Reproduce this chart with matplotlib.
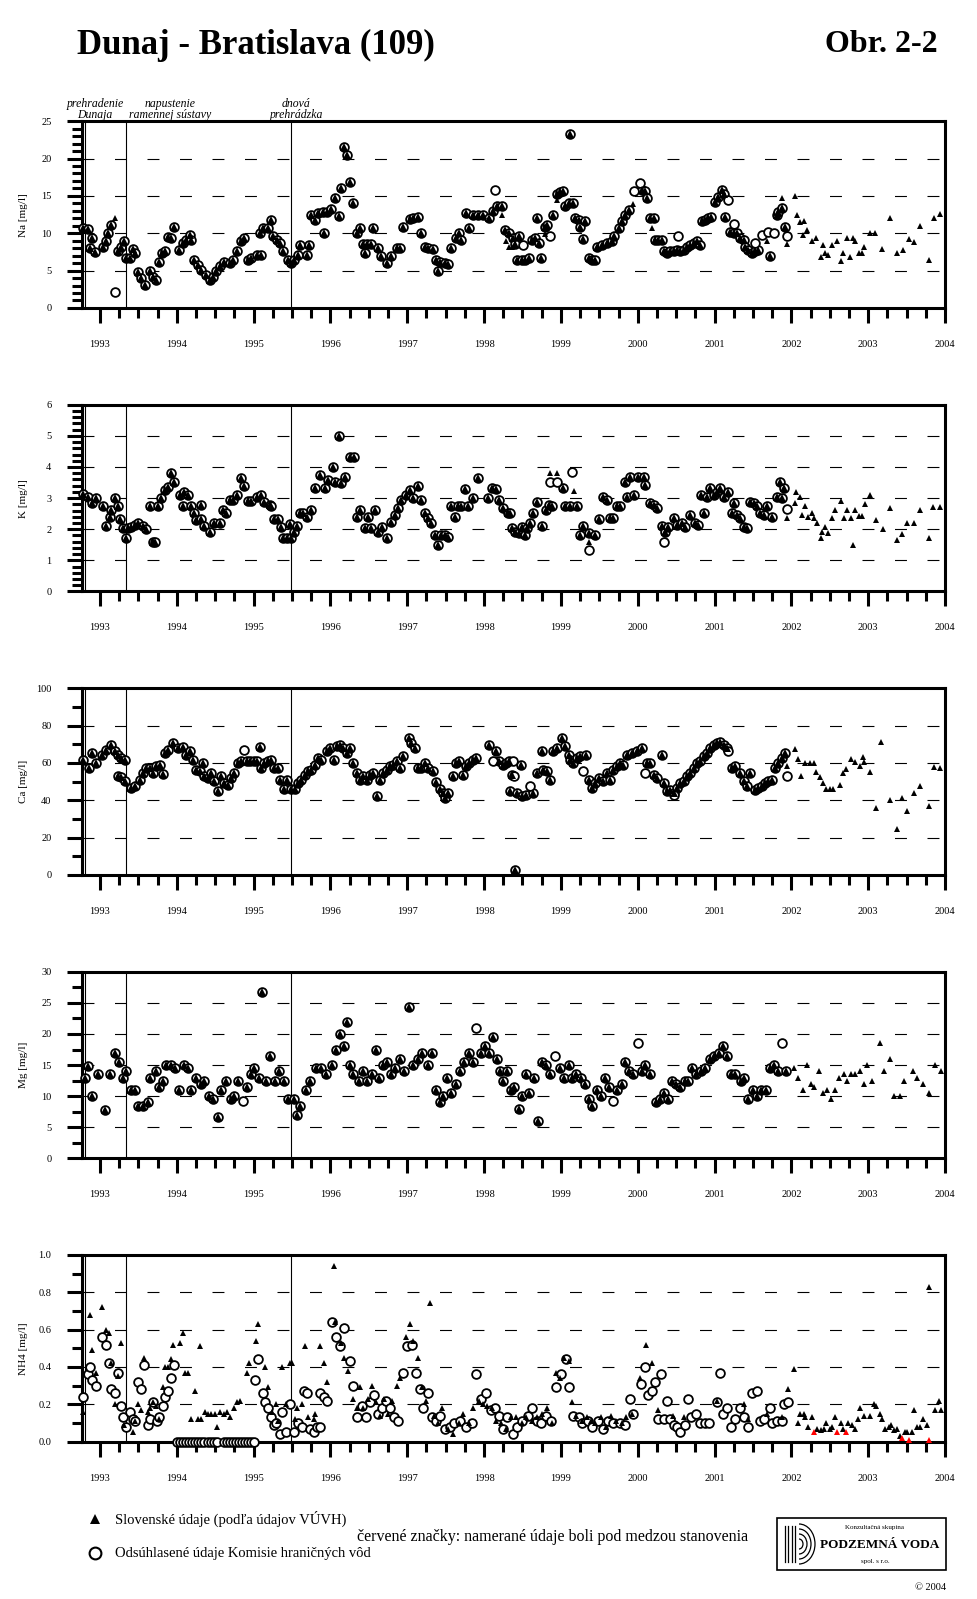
import numpy as np
import matplotlib.pyplot as plt
from matplotlib.lines import Line2D
from matplotlib.patches import Rectangle, Arc
from matplotlib.ticker import MultipleLocator, FormatStrFormatter

plt.rcParams['font.family'] = ['Liberation Serif', 'DejaVu Serif']
plt.rcParams['lines.scale_dashes'] = False

# ---- data: (decimal year, value) ----
# "both" = triangle (SK data) inside a circle (agreed data); "tri"/"circ" = single marker

na_both = [(1992.78,10.75),(1992.84,10.6),(1992.90,9.4),(1992.87,8.0),(1992.93,7.5),(1993.04,8.2),(1993.08,9.0),
    (1993.11,10.0),(1993.15,11.1),(1993.23,7.6),(1993.28,8.1),(1993.31,9.0),(1993.34,6.7),(1993.39,6.7),(1993.43,7.9),
    (1993.45,7.3),(1993.49,4.8),(1993.54,4.0),(1993.58,3.1),(1993.65,4.9),(1993.69,4.2),(1993.73,3.8),(1993.77,6.2),
    (1993.81,7.4),(1993.84,7.6),(1993.88,9.5),(1993.93,9.4),(1993.96,10.8),(1994.03,7.8),(1994.08,8.7),(1994.12,9.1),
    (1994.17,9.8),(1994.19,9.1),(1994.22,6.4),(1994.28,5.8),(1994.32,5.1),(1994.38,4.4),(1994.43,3.8),(1994.47,4.1),
    (1994.51,4.9),(1994.56,5.6),(1994.62,6.2),(1994.69,6.0),(1994.73,6.4),(1994.79,7.6),(1994.84,8.9),(1994.88,9.3),
    (1994.93,6.4),(1994.97,6.7),(1995.04,7.1),(1995.10,7.1),(1995.08,10.0),(1995.12,10.7),(1995.19,10.7),(1995.22,11.8),
    (1995.25,9.6),(1995.30,9.1),(1995.34,8.7),(1995.38,7.6),(1995.45,6.4),(1995.49,6.0),(1995.53,6.4),(1995.58,7.1),
    (1995.61,8.4),(1995.69,7.1),(1995.72,8.4),(1995.75,12.4),(1995.80,11.8),(1995.84,12.7),(1995.90,12.8),(1995.96,12.9),
    (1996.01,13.3),(1995.92,10.0),(1996.06,14.7),(1996.11,12.3),(1996.14,16.0),(1996.18,21.6),(1996.22,20.5),(1996.26,16.8),
    (1996.30,14.0),(1996.34,10.0),(1996.38,10.7),(1996.42,8.5),(1996.47,8.5),(1996.45,7.3),(1996.56,10.7),(1996.53,8.5),
    (1996.62,8.0),(1996.66,6.9),(1996.73,6.0),(1996.79,6.9),(1996.86,8.0),(1996.90,8.0),(1996.95,10.9),(1997.03,11.9),
    (1997.08,12.1),(1997.14,12.2),(1997.18,10.1),(1997.23,8.2),(1997.27,8.0),(1997.34,7.9),(1997.38,6.4),(1997.40,4.9),
    (1997.42,6.2),(1997.49,6.0),(1997.53,5.9),(1997.57,8.0),(1997.64,9.3),(1997.68,10.0),(1997.70,9.1),(1997.77,12.7),
    (1997.81,10.7),(1997.86,12.4),(1997.92,12.4),(1997.99,12.4),(1998.07,12.1),(1998.12,13.0),(1998.17,13.7),(1998.23,13.6),
    (1998.27,10.4),(1998.33,10.0),(1998.38,9.3),(1998.40,8.5),(1998.43,6.4),(1998.45,9.6),(1998.49,6.4),(1998.53,6.4),
    (1998.58,6.7),(1998.62,9.1),(1998.66,9.3),(1998.71,8.7),(1998.69,12.1),(1998.74,6.7),(1998.79,10.9),(1998.82,11.1),
    (1998.90,12.4),(1998.95,15.3),(1998.99,15.5),(1999.03,15.6),(1999.05,13.7),(1999.10,14.0),(1999.16,14.1),(1999.12,23.3),
    (1999.19,12.0),(1999.23,11.8),(1999.25,10.9),(1999.32,11.6),(1999.29,9.2),(1999.36,6.7),(1999.40,6.4),(1999.45,6.4),
    (1999.47,8.2),(1999.53,8.4),(1999.60,8.7),(1999.66,8.9),(1999.69,9.6),(1999.75,10.7),(1999.79,11.6),(1999.84,12.4),
    (1999.88,13.1),(2000.05,15.8),(2000.10,15.6),(2000.12,14.7),(2000.16,12.0),(2000.21,12.0),(2000.23,9.1),(2000.27,9.1),
    (2000.31,9.1),(2000.34,7.6),(2000.38,7.3),(2000.42,7.6),(2000.47,7.6),(2000.51,7.8),(2000.55,7.6),(2000.60,7.8),
    (2000.64,8.2),(2000.68,8.4),(2000.73,8.7),(2000.77,8.9),(2000.81,8.4),(2000.84,11.6),(2000.88,11.8),(2000.92,12.1),
    (2000.96,12.2),(2001.01,14.2),(2001.05,14.9),(2001.10,15.8),(2001.12,15.3),(2001.14,12.2),(2001.20,10.2),(2001.25,10.0),
    (2001.29,10.0),(2001.33,9.3),(2001.38,9.1),(2001.40,8.2),(2001.44,7.8),(2001.49,7.3),(2001.53,7.6),(2001.57,7.8),
    (2001.72,6.9),(2001.81,12.4),(2001.83,12.9),(2001.88,13.4),(2001.92,10.9)]
na_circ = [(1993.19,2.2),(1998.14,15.8),(1998.51,8.4),(1998.86,9.6),(1999.95,15.6),(2000.03,16.7),(2000.53,9.7),
    (2001.18,14.4),(2001.25,11.3),(2001.53,8.7),(2001.62,9.8),(2001.70,10.2),(2001.77,10.0),(2001.94,9.6)]
na_tri = [(1993.19,12.1),(1998.23,12.4),(1998.29,9.0),(1998.33,8.2),(1998.36,8.2),(1998.79,9.9),(1998.95,14.4),
    (1999.94,13.9),(2000.18,10.7),(2001.68,9.0),(2001.88,14.7),(2001.94,8.5),
    (2002.05,15.0),(2002.07,12.4),(2002.11,11.5),(2002.17,11.7),(2002.15,9.8),(2002.21,10.4),(2002.27,9.0),(2002.32,9.4),
    (2002.41,8.4),(2002.38,6.8),(2002.44,7.3),(2002.48,7.1),(2002.53,8.4),(2002.59,8.9),(2002.64,6.3),(2002.67,7.4),
    (2002.72,9.4),(2002.76,6.8),(2002.80,9.4),(2002.83,8.9),(2002.88,7.3),(2002.92,7.3),(2002.94,8.2),(2003.02,10.1),
    (2003.09,10.0),(2003.18,7.9),(2003.29,12.1),(2003.37,7.3),(2003.45,7.8),(2003.53,9.2),(2003.59,8.8),(2003.68,11.0),
    (2003.79,6.4),(2003.86,12.1),(2003.94,12.6)]

k_both = [(1992.78,3.12),(1992.84,3.05),(1992.89,2.83),(1992.95,3.0),(1993.04,2.73),(1993.08,2.1),(1993.13,2.4),
    (1993.15,2.62),(1993.19,3.0),(1993.23,2.73),(1993.26,2.32),(1993.30,2.03),(1993.34,1.71),(1993.36,2.03),(1993.41,2.08),
    (1993.45,2.14),(1993.49,2.21),(1993.56,2.1),(1993.60,2.0),(1993.69,1.6),(1993.72,1.6),(1993.65,2.73),(1993.76,2.73),
    (1993.80,3.0),(1993.84,3.26),(1993.89,3.35),(1993.93,3.82),(1993.96,3.53),(1994.04,3.1),(1994.10,3.2),(1994.15,3.1),
    (1994.08,2.73),(1994.19,2.73),(1994.23,2.53),(1994.25,2.3),(1994.32,2.32),(1994.36,2.1),(1994.43,1.92),(1994.49,2.19),
    (1994.56,2.21),(1994.32,2.78),(1994.60,2.62),(1994.64,2.51),(1994.69,2.94),(1994.73,2.94),(1994.78,3.1),(1994.84,3.64),
    (1994.88,3.39),(1994.93,2.92),(1994.97,2.92),(1995.04,3.05),(1995.09,3.1),(1995.14,2.89),(1995.21,2.78),(1995.23,2.73),
    (1995.27,2.32),(1995.32,2.32),(1995.36,2.08),(1995.38,1.71),(1995.43,1.71),(1995.47,2.17),(1995.49,1.71),(1995.53,1.92),
    (1995.56,2.1),(1995.60,2.51),(1995.64,2.51),(1995.70,2.4),(1995.75,2.62),(1995.80,3.32),(1995.86,3.74),(1995.93,3.32),
    (1995.97,3.58),(1996.03,4.01),(1996.06,3.53),(1996.11,5.0),(1996.14,3.5),(1996.19,3.69),(1996.25,4.33),(1996.31,4.33),
    (1996.34,2.4),(1996.38,2.62),(1996.45,2.03),(1996.49,2.4),(1996.53,2.03),(1996.58,2.62),(1996.62,1.92),(1996.67,2.08),
    (1996.73,1.71),(1996.79,2.24),(1996.84,2.46),(1996.88,2.67),(1996.92,2.94),(1996.99,3.1),(1997.03,3.26),(1997.08,3.0),
    (1997.14,3.39),(1997.18,2.94),(1997.23,2.51),(1997.27,2.35),(1997.31,2.21),(1997.36,1.81),(1997.40,1.49),(1997.44,1.81),
    (1997.49,1.81),(1997.53,1.76),(1997.57,2.73),(1997.62,2.4),(1997.66,2.73),(1997.70,2.73),(1997.75,3.29),(1997.79,2.73),
    (1997.86,3.0),(1997.92,3.64),(1998.05,3.0),(1998.10,3.32),(1998.16,3.29),(1998.20,2.94),(1998.25,2.67),(1998.31,2.51),
    (1998.36,2.03),(1998.40,1.92),(1998.34,2.51),(1998.45,1.87),(1998.49,2.08),(1998.53,1.81),(1998.56,2.03),(1998.60,2.21),
    (1998.64,2.51),(1998.69,2.89),(1998.75,2.1),(1998.80,2.62),(1998.84,2.78),(1998.88,2.73),(1999.03,3.32),(1999.05,2.75),
    (1999.12,2.73),(1999.21,2.73),(1999.29,2.1),(1999.25,1.81),(1999.37,1.89),(1999.45,1.81),(1999.49,2.32),(1999.55,3.03),
    (1999.60,2.94),(1999.64,2.35),(1999.68,2.35),(1999.73,2.73),(1999.77,2.73),(1999.84,3.53),(1999.86,3.05),(1999.90,3.69),
    (1999.95,3.1),(2000.01,3.69),(2000.08,3.69),(2000.10,3.42),(2000.16,2.83),(2000.21,2.78),(2000.25,2.67),(2000.31,2.1),
    (2000.36,1.92),(2000.40,2.08),(2000.47,2.35),(2000.51,2.14),(2000.57,2.19),(2000.62,2.08),(2000.68,2.46),(2000.75,2.19),
    (2000.79,2.14),(2000.86,2.51),(2000.83,3.1),(2000.90,3.05),(2000.94,3.32),(2000.99,3.1),(2001.03,3.21),(2001.07,3.32),
    (2001.12,3.05),(2001.18,3.21),(2001.25,2.83),(2001.23,2.51),(2001.29,2.46),(2001.33,2.35),(2001.38,2.08),(2001.42,2.03),
    (2001.46,2.89),(2001.51,2.83),(2001.55,2.73),(2001.59,2.51),(2001.64,2.46),(2001.68,2.73),(2001.75,2.4),(2001.81,3.05),
    (2001.85,3.53),(2001.90,3.32),(2001.88,2.99)]
k_circ = [(1998.86,3.53),(1998.95,3.53),(1999.14,3.85),(1999.36,1.33),(2000.34,1.6),(2001.94,2.64)]
k_tri = [(1998.86,3.8),(1998.95,3.8),(1999.17,3.24),(1999.36,1.6),
    (2001.94,2.35),(2002.06,3.21),(2002.11,3.03),(2002.05,2.83),(2002.14,2.46),(2002.18,2.73),(2002.22,2.4),(2002.27,2.51),
    (2002.29,2.35),(2002.33,2.21),(2002.40,1.92),(2002.44,2.08),(2002.48,1.89),(2002.38,1.71),(2002.53,2.35),(2002.57,2.62),
    (2002.64,2.92),(2002.68,2.35),(2002.72,2.62),(2002.77,2.35),(2002.80,1.49),(2002.83,2.62),(2002.88,2.42),(2002.92,2.42),
    (2002.96,2.81),(2003.03,3.1),(2003.10,2.3),(2003.19,2.0),(2003.29,2.67),(2003.37,1.65),(2003.44,1.85),(2003.50,2.21),
    (2003.59,2.21),(2003.68,2.62),(2003.79,1.71),(2003.85,2.7),(2003.94,2.7)]

ca_both = [(1992.78,61.4),(1992.86,57.2),(1992.89,65.3),(1992.95,60.0),(1993.02,64.4),(1993.08,67.1),(1993.15,69.8),
    (1993.19,66.2),(1993.23,64.4),(1993.28,62.6),(1993.32,61.7),(1993.23,53.2),(1993.28,52.5),(1993.32,50.1),(1993.41,46.5),
    (1993.45,47.4),(1993.52,51.0),(1993.56,54.6),(1993.60,57.3),(1993.65,57.3),(1993.69,54.6),(1993.73,58.2),(1993.78,59.1),
    (1993.82,54.2),(1993.84,65.3),(1993.89,67.1),(1993.95,70.7),(1994.02,68.0),(1994.08,68.5),(1994.12,64.4),(1994.17,66.2),
    (1994.21,61.7),(1994.25,56.4),(1994.30,55.5),(1994.34,60.0),(1994.36,52.8),(1994.41,51.9),(1994.45,54.6),(1994.49,50.1),
    (1994.54,44.8),(1994.58,52.8),(1994.62,49.2),(1994.67,48.3),(1994.71,51.9),(1994.75,54.6),(1994.80,60.0),(1994.84,60.9),
    (1994.91,60.9),(1994.95,60.9),(1995.00,60.9),(1995.04,61.2),(1995.08,68.3),(1995.10,57.3),(1995.14,60.0),(1995.19,60.9),
    (1995.23,61.7),(1995.27,57.3),(1995.32,57.3),(1995.34,51.0),(1995.39,46.0),(1995.43,51.0),(1995.49,46.0),(1995.54,46.0),
    (1995.58,49.2),(1995.62,51.0),(1995.67,53.7),(1995.71,55.5),(1995.75,56.4),(1995.80,59.1),(1995.84,62.6),(1995.88,61.7),
    (1995.95,66.2),(1995.99,68.0),(1996.04,61.7),(1996.08,68.9),(1996.12,69.8),(1996.17,68.0),(1996.21,65.3),(1996.25,68.0),
    (1996.30,60.0),(1996.34,54.6),(1996.38,51.0),(1996.43,52.8),(1996.47,51.0),(1996.51,53.7),(1996.56,54.6),(1996.60,42.1),
    (1996.64,51.0),(1996.69,54.6),(1996.73,56.0),(1996.77,58.2),(1996.82,59.1),(1996.86,60.9),(1996.90,57.3),(1996.95,63.5),
    (1997.02,73.4),(1997.05,70.7),(1997.10,68.0),(1997.14,57.3),(1997.18,57.3),(1997.23,60.0),(1997.27,57.3),(1997.34,55.5),
    (1997.38,49.6),(1997.42,46.0),(1997.47,43.9),(1997.49,41.2),(1997.53,43.9),(1997.60,52.8),(1997.64,60.0),(1997.68,60.9),
    (1997.73,53.7),(1997.77,58.2),(1997.81,60.0),(1997.86,61.7),(1997.90,62.6),(1998.07,69.8),(1998.16,66.2),(1998.20,60.9),
    (1998.25,59.1),(1998.29,60.0),(1998.33,60.9),(1998.36,53.7),(1998.40,2.7),(1998.34,44.8),(1998.43,43.9),(1998.49,42.1),
    (1998.55,43.0),(1998.64,43.9),(1998.48,59.1),(1998.69,54.6),(1998.75,66.2),(1998.77,56.4),(1998.82,55.5),(1998.86,51.0),
    (1998.90,66.2),(1998.95,68.0),(1999.01,73.4),(1999.05,68.9),(1999.10,64.4),(1999.12,61.7),(1999.16,60.0),(1999.21,62.6),
    (1999.25,63.5),(1999.33,64.4),(1999.36,51.0),(1999.40,46.5),(1999.45,49.2),(1999.49,51.9),(1999.55,50.1),(1999.60,54.6),
    (1999.64,51.0),(1999.68,56.4),(1999.73,58.2),(1999.77,60.0),(1999.81,59.1),(1999.86,64.4),(1999.92,65.3),(1999.99,66.2),
    (2000.05,68.0),(2000.12,60.0),(2000.16,60.0),(2000.21,53.7),(2000.25,51.9),(2000.31,64.4),(2000.34,49.2),(2000.38,44.8),
    (2000.42,45.7),(2000.47,43.9),(2000.51,46.5),(2000.55,49.2),(2000.60,50.1),(2000.64,52.8),(2000.68,54.6),(2000.73,57.3),
    (2000.77,60.0),(2000.81,60.9),(2000.86,63.5),(2000.90,65.3),(2000.94,68.0),(2000.99,69.8),(2001.03,70.7),(2001.07,71.1),
    (2001.12,69.8),(2001.16,68.0),(2001.23,57.3),(2001.27,58.2),(2001.33,54.6),(2001.38,50.1),(2001.42,47.4),(2001.46,54.6),
    (2001.53,45.7),(2001.57,46.5),(2001.62,47.4),(2001.66,49.2),(2001.70,50.1),(2001.75,51.0),(2001.79,57.3),(2001.83,60.0),
    (2001.88,62.6),(2001.92,65.3)]
ca_circ = [(1994.88,67.1),(1998.12,60.9),(1998.38,60.9),(1998.39,52.8),(1998.60,47.4),(1999.29,55.5),(2000.10,54.6),
    (2000.47,43.0),(2001.18,66.2),(2001.94,52.8)]
ca_tri = [(2001.94,58.5),(2002.05,67.5),(2002.08,62.1),(2002.12,53.2),(2002.18,60.0),(2002.24,60.0),(2002.29,60.0),
    (2002.32,55.0),(2002.37,52.4),(2002.41,49.2),(2002.45,46.0),(2002.50,46.0),(2002.54,46.0),(2002.63,48.3),(2002.67,54.6),
    (2002.71,56.7),(2002.77,62.1),(2002.83,60.3),(2002.89,58.5),(2002.93,63.2),(2002.95,60.3),(2003.02,55.0),(2003.10,35.8),
    (2003.17,71.1),(2003.29,39.9),(2003.37,24.7),(2003.44,41.2),(2003.51,34.0),(2003.60,43.9),(2003.68,47.8),(2003.79,37.1),
    (2003.86,57.8),(2003.94,57.3)]

mg_both = [(1992.80,13.0),(1992.85,14.8),(1992.89,10.1),(1992.97,13.5),(1993.07,7.8),(1993.13,13.5),(1993.20,17.0),
    (1993.25,15.5),(1993.30,13.0),(1993.34,14.0),(1993.40,11.0),(1993.46,11.0),(1993.50,8.5),(1993.56,8.5),(1993.62,9.0),
    (1993.65,13.0),(1993.73,14.0),(1993.77,11.5),(1993.82,12.5),(1993.86,15.0),(1993.93,15.0),(1993.98,14.5),(1994.03,11.0),
    (1994.09,15.0),(1994.14,14.5),(1994.19,11.0),(1994.25,13.0),(1994.31,12.0),(1994.35,12.5),(1994.42,10.0),(1994.47,9.5),
    (1994.54,6.7),(1994.58,11.0),(1994.64,12.5),(1994.70,9.5),(1994.75,10.0),(1994.80,12.5),(1994.91,11.5),(1994.96,13.5),
    (1995.01,14.5),(1995.07,13.0),(1995.11,26.7),(1995.16,12.5),(1995.21,16.5),(1995.28,12.5),(1995.33,14.0),(1995.39,12.5),
    (1995.45,9.5),(1995.53,9.5),(1995.57,7.0),(1995.61,8.5),(1995.68,11.0),(1995.74,12.5),(1995.81,14.5),(1995.88,14.5),
    (1995.94,13.5),(1996.02,15.0),(1996.07,17.5),(1996.13,20.0),(1996.18,18.0),(1996.22,22.0),(1996.26,15.0),(1996.30,13.5),
    (1996.37,12.5),(1996.42,14.0),(1996.47,12.5),(1996.54,13.5),(1996.59,17.5),(1996.63,13.0),(1996.68,15.0),(1996.74,15.5),
    (1996.79,13.5),(1996.84,14.5),(1996.91,16.0),(1996.96,14.0),(1997.02,24.3),(1997.07,15.0),(1997.14,16.0),(1997.19,17.0),
    (1997.27,15.0),(1997.32,17.0),(1997.37,11.0),(1997.43,9.0),(1997.47,10.0),(1997.52,13.0),(1997.57,10.5),(1997.63,12.0),
    (1997.69,14.0),(1997.74,15.5),(1997.80,17.0),(1997.85,15.5),(1997.96,17.0),(1998.01,18.0),(1998.06,17.0),(1998.12,19.5),
    (1998.17,16.0),(1998.21,14.0),(1998.25,12.5),(1998.30,14.0),(1998.35,11.0),(1998.39,11.5),(1998.45,8.0),(1998.49,10.0),
    (1998.54,13.5),(1998.59,10.5),(1998.65,13.0),(1998.70,6.0),(1998.75,15.5),(1998.81,15.0),(1998.86,13.5),(1998.99,14.5),
    (1999.04,13.0),(1999.10,15.0),(1999.15,13.0),(1999.20,13.5),(1999.26,13.0),(1999.31,12.0),(1999.36,9.5),(1999.41,8.5),
    (1999.47,11.0),(1999.52,10.0),(1999.57,13.0),(1999.63,11.5),(1999.73,11.0),(1999.79,12.0),(1999.84,15.5),(1999.89,14.0),
    (1999.94,13.5),(2000.05,14.0),(2000.10,15.0),(2000.16,13.5),(2000.24,9.0),(2000.29,9.5),(2000.34,10.5),(2000.40,9.5),
    (2000.45,12.5),(2000.50,12.0),(2000.55,11.5),(2000.61,12.5),(2000.66,12.5),(2000.71,14.5),(2000.76,13.5),(2000.82,14.0),
    (2000.87,14.5),(2000.94,16.0),(2000.99,16.5),(2001.06,17.0),(2001.11,18.0),(2001.16,16.5),(2001.22,13.5),(2001.27,13.5),
    (2001.34,12.5),(2001.39,13.0),(2001.44,9.5),(2001.50,11.0),(2001.55,10.0),(2001.60,11.0),(2001.67,11.0),(2001.72,14.5),
    (2001.77,15.0),(2001.83,14.0),(2001.93,14.0)]
mg_circ = [(1994.86,9.3),(1997.90,21.0),(1998.92,16.5),(1999.68,9.3),(2000.00,18.5),(2001.88,18.5)]
mg_tri = [(2002.04,14.5),(2002.09,13.0),(2002.15,11.0),(2002.20,15.0),(2002.25,12.0),(2002.30,11.5),(2002.36,14.0),
    (2002.41,10.5),(2002.46,11.0),(2002.52,9.5),(2002.57,11.0),(2002.62,13.0),(2002.68,13.5),(2002.73,12.5),(2002.78,13.5),
    (2002.83,13.5),(2002.89,14.0),(2002.94,12.0),(2002.99,15.0),(2003.05,12.5),(2003.15,18.5),(2003.21,14.0),(2003.28,16.0),
    (2003.34,10.0),(2003.42,10.0),(2003.47,12.5),(2003.58,14.0),(2003.63,13.0),(2003.71,12.0),(2003.79,10.5),(2003.87,15.0),
    (2003.95,14.0)]

nh4_tri = [(1992.78,0.16),(1992.87,0.68),(1992.90,0.49),(1992.95,0.37),(1993.03,0.72),(1993.08,0.60),(1993.12,0.58),
    (1993.15,0.42),(1993.20,0.20),(1993.23,0.35),(1993.27,0.53),(1993.31,0.09),(1993.43,0.05),(1993.46,0.11),(1993.50,0.20),
    (1993.54,0.17),(1993.57,0.45),(1993.62,0.16),(1993.65,0.18),(1993.69,0.21),(1993.73,0.19),(1993.77,0.12),(1993.82,0.29),
    (1993.85,0.40),(1993.89,0.40),(1993.92,0.44),(1993.95,0.52),(1994.04,0.53),(1994.08,0.58),(1994.11,0.37),(1994.15,0.37),
    (1994.19,0.12),(1994.24,0.27),(1994.28,0.12),(1994.30,0.51),(1994.32,0.12),(1994.37,0.16),(1994.41,0.15),(1994.45,0.15),
    (1994.50,0.15),(1994.52,0.08),(1994.56,0.16),(1994.61,0.15),(1994.65,0.16),(1994.69,0.13),(1994.74,0.18),(1994.78,0.21),
    (1994.82,0.22),(1994.91,0.37),(1994.94,0.42),(1995.03,0.54),(1995.06,0.63),(1995.15,0.40),(1995.19,0.29),(1995.24,0.16),
    (1995.29,0.20),(1995.32,0.11),(1995.37,0.40),(1995.42,0.20),(1995.47,0.42),(1995.50,0.42),(1995.54,0.12),(1995.56,0.18),
    (1995.63,0.20),(1995.67,0.51),(1995.71,0.13),(1995.78,0.12),(1995.80,0.15),(1995.86,0.51),(1995.91,0.42),(1995.95,0.32),
    (1996.05,0.94),(1996.06,0.64),(1996.14,0.53),(1996.18,0.45),(1996.23,0.38),(1996.29,0.23),(1996.34,0.18),(1996.38,0.29),
    (1996.43,0.18),(1996.49,0.23),(1996.54,0.30),(1996.59,0.21),(1996.64,0.14),(1996.70,0.23),(1996.75,0.15),(1996.80,0.22),
    (1996.87,0.30),(1996.91,0.34),(1996.98,0.56),(1997.03,0.63),(1997.08,0.54),(1997.14,0.45),(1997.19,0.29),(1997.24,0.22),
    (1997.29,0.74),(1997.35,0.14),(1997.40,0.10),(1997.45,0.18),(1997.53,0.07),(1997.60,0.04),(1997.67,0.10),(1997.73,0.15),
    (1997.80,0.10),(1997.86,0.18),(1997.93,0.22),(1997.98,0.20),(1998.04,0.19),(1998.10,0.18),(1998.16,0.11),(1998.22,0.10),
    (1998.29,0.07),(1998.35,0.13),(1998.42,0.13),(1998.49,0.10),(1998.55,0.13),(1998.62,0.11),(1998.69,0.13),(1998.75,0.15),
    (1998.82,0.18),(1998.88,0.10),(1998.94,0.37),(1998.99,0.34),(1999.04,0.45),(1999.10,0.43),(1999.15,0.21),(1999.20,0.14),
    (1999.27,0.11),(1999.34,0.13),(1999.39,0.11),(1999.45,0.10),(1999.52,0.13),(1999.59,0.08),(1999.65,0.14),(1999.72,0.11),
    (1999.79,0.10),(1999.85,0.13),(1999.92,0.15),(2000.03,0.34),(2000.11,0.52),(2000.18,0.42),(2000.26,0.17),(2000.46,0.14),
    (2000.60,0.13),(2001.03,0.22),(2001.38,0.20),(2001.44,0.12),(2001.68,0.15),(2001.88,0.13),(2001.95,0.28),(2002.04,0.39),
    (2002.08,0.10),(2002.11,0.15),(2002.16,0.15),(2002.18,0.13),(2002.22,0.08),(2002.27,0.13),(2002.34,0.07),(2002.38,0.06),
    (2002.42,0.07),(2002.45,0.10),(2002.50,0.07),(2002.53,0.08),(2002.57,0.13),(2002.64,0.10),(2002.67,0.07),(2002.74,0.10),
    (2002.79,0.09),(2002.83,0.07),(2002.87,0.12),(2002.90,0.18),(2002.95,0.14),(2003.02,0.14),(2003.07,0.20),(2003.10,0.19),
    (2003.15,0.15),(2003.18,0.12),(2003.22,0.07),(2003.27,0.08),(2003.30,0.09),(2003.33,0.06),(2003.37,0.07),(2003.41,0.03),
    (2003.48,0.05),(2003.50,0.05),(2003.57,0.05),(2003.60,0.17),(2003.63,0.08),(2003.68,0.08),(2003.71,0.12),(2003.76,0.09),
    (2003.79,0.83),(2003.87,0.17),(2003.92,0.22),(2003.95,0.17)]
nh4_red = [(2002.30,0.05),(2002.60,0.05),(2002.71,0.05),(2003.44,0.02),(2003.53,0.01),(2003.79,0.01)]
nh4_circ = [(1992.78,0.24),(1992.84,0.36),(1992.87,0.40),(1992.90,0.33),(1992.95,0.30),(1993.03,0.56),(1993.08,0.52),
    (1993.12,0.42),(1993.15,0.28),(1993.20,0.26),(1993.23,0.37),(1993.27,0.19),(1993.30,0.13),(1993.34,0.08),(1993.39,0.16),
    (1993.43,0.12),(1993.46,0.11),(1993.50,0.32),(1993.54,0.28),(1993.57,0.41),(1993.62,0.09),(1993.65,0.12),(1993.69,0.21),
    (1993.74,0.11),(1993.77,0.13),(1993.82,0.19),(1993.85,0.24),(1993.89,0.27),(1993.92,0.34),(1993.96,0.41),
    (1994.00,0.0),(1994.04,0.0),(1994.08,0.0),(1994.12,0.0),(1994.16,0.0),(1994.20,0.0),(1994.24,0.0),(1994.28,0.0),
    (1994.32,0.0),(1994.36,0.0),(1994.40,0.0),(1994.44,0.0),(1994.48,0.0),(1994.52,0.0),(1994.61,0.0),(1994.65,0.0),
    (1994.69,0.0),(1994.73,0.0),(1994.77,0.0),(1994.81,0.0),(1994.85,0.0),(1994.89,0.0),(1994.93,0.0),(1994.97,0.0),
    (1995.00,0.0),(1995.02,0.33),(1995.06,0.44),(1995.12,0.26),(1995.15,0.21),(1995.19,0.18),(1995.22,0.13),(1995.26,0.09),
    (1995.29,0.10),(1995.34,0.04),(1995.37,0.16),(1995.42,0.05),(1995.47,0.20),(1995.53,0.05),(1995.58,0.10),(1995.63,0.08),
    (1995.65,0.27),(1995.69,0.26),(1995.73,0.07),(1995.78,0.05),(1995.82,0.08),(1995.86,0.08),(1995.87,0.26),(1995.91,0.24),
    (1995.95,0.22),(1996.02,0.64),(1996.07,0.56),(1996.13,0.51),(1996.18,0.61),(1996.25,0.43),(1996.30,0.30),(1996.35,0.13),
    (1996.41,0.19),(1996.46,0.13),(1996.51,0.21),(1996.57,0.25),(1996.62,0.15),(1996.67,0.18),(1996.72,0.22),(1996.78,0.18),
    (1996.83,0.13),(1996.88,0.11),(1996.94,0.37),(1997.00,0.51),(1997.06,0.52),(1997.11,0.37),(1997.16,0.28),(1997.21,0.18),
    (1997.27,0.26),(1997.32,0.13),(1997.37,0.11),(1997.43,0.14),(1997.49,0.07),(1997.55,0.08),(1997.61,0.10),(1997.69,0.11),
    (1997.77,0.08),(1997.84,0.10),(1997.90,0.36),(1997.96,0.23),(1998.02,0.26),(1998.09,0.17),(1998.14,0.18),(1998.20,0.14),
    (1998.25,0.07),(1998.30,0.13),(1998.37,0.04),(1998.43,0.08),(1998.50,0.11),(1998.57,0.14),(1998.62,0.18),(1998.69,0.11),
    (1998.74,0.10),(1998.81,0.14),(1998.87,0.11),(1998.94,0.29),(1999.00,0.36),(1999.06,0.44),(1999.11,0.29),(1999.16,0.14),
    (1999.23,0.13),(1999.28,0.10),(1999.35,0.11),(1999.41,0.08),(1999.48,0.11),(1999.55,0.07),(1999.61,0.11),(1999.68,0.10),
    (1999.77,0.10),(1999.84,0.09),(1999.90,0.23),(1999.94,0.15),(2000.04,0.31),(2000.10,0.40),(2000.14,0.25),(2000.18,0.27),
    (2000.23,0.32),(2000.27,0.12),(2000.30,0.36),(2000.34,0.12),(2000.38,0.22),(2000.42,0.12),(2000.47,0.09),(2000.51,0.08),
    (2000.55,0.05),(2000.62,0.09),(2000.65,0.23),(2000.70,0.13),(2000.76,0.15),(2000.81,0.10),(2000.88,0.10),(2000.93,0.10),
    (2001.03,0.21),(2001.07,0.37),(2001.11,0.15),(2001.16,0.18),(2001.21,0.08),(2001.27,0.12),(2001.33,0.18),(2001.39,0.13),
    (2001.44,0.08),(2001.49,0.26),(2001.55,0.27),(2001.59,0.11),(2001.64,0.12),(2001.72,0.18),(2001.75,0.10),(2001.81,0.11),
    (2001.88,0.11),(2001.90,0.20),(2001.95,0.21)]

events = [1992.81, 1993.34, 1995.49]
years = list(range(1993, 2005))

panels = [
    # label, ymax, major, minor, fmt, both, tri, circ
    ('Na [mg/l]', 25, 5, 1, '%d', na_both, na_tri, na_circ),
    ('K [mg/l]', 6, 1, 0.2, '%d', k_both, k_tri, k_circ),
    ('Ca [mg/l]', 100, 20, 10, '%d', ca_both, ca_tri, ca_circ),
    ('Mg [mg/l]', 30, 5, 2.5, '%d', mg_both, mg_tri, mg_circ),
    ('NH4 [mg/l]', 1.0, 0.2, 0.1, '%.1f', [], nh4_tri, nh4_circ),
]
bottoms = [0.8074, 0.6301, 0.4528, 0.2755, 0.0984]

W, H = 978, 1599
fig = plt.figure(figsize=(W / 100, H / 100), dpi=100)

def tv(pts):
    if not pts:
        return [], []
    t, v = zip(*pts)
    return list(t), list(v)

for (label, ymax, major, minor, fmt, both, tri, circ), b in zip(panels, bottoms):
    ax = fig.add_axes([82 / W, b, 863 / W, 0.1168])
    ax.set_xlim(1992.766, 2004.0)
    ax.set_ylim(0, ymax)
    for y in np.arange(major, ymax - major / 2, major):
        ax.axhline(y, color='k', lw=0.8, dashes=(8.6, 14.8), zorder=1)
    for e in events:
        ax.axvline(e, color='k', lw=0.8, zorder=1)

    t, v = tv(both + circ)
    ax.plot(t, v, 'o', ms=6.3, mfc='white', mec='k', mew=1.3, zorder=3, clip_on=False)
    t, v = tv(both)
    ax.plot(t, v, '^', ms=5.8, color='k', mew=0, zorder=4, clip_on=False)
    t, v = tv(tri)
    ax.plot(t, v, '^', ms=4.8, color='k', mew=0, zorder=4, clip_on=False)
    if label.startswith('NH4'):
        t, v = tv(nh4_red)
        ax.plot(t, v, '^', ms=4.8, color='red', mew=0, zorder=5, clip_on=False)

    ax.xaxis.set_minor_locator(MultipleLocator(0.25))
    ax.set_xticks(years)
    ax.set_xticklabels([str(y) for y in years])
    ax.yaxis.set_major_locator(MultipleLocator(major))
    ax.yaxis.set_minor_locator(MultipleLocator(minor))
    ax.yaxis.set_major_formatter(FormatStrFormatter(fmt))
    for s in ax.spines.values():
        s.set_linewidth(2.2)
    ax.tick_params(which='major', length=11, width=2.2, labelsize=7.5)
    ax.tick_params(which='minor', length=7, width=2.2)
    ax.tick_params(axis='x', which='major', pad=12)
    ax.tick_params(axis='y', which='major', pad=11)
    ax.set_ylabel(label, fontsize=8)
    ax.yaxis.set_label_coords(-0.062, 0.5)

# titles
fig.text(256 / W, 1 - 45 / H, 'Dunaj - Bratislava (109)', ha='center', va='center',
         fontsize=25, fontweight='bold')
fig.text(938 / W, 1 - 45 / H, 'Obr. 2-2', ha='right', va='center', fontsize=23, fontweight='bold')

# event labels above the first panel
ev_text = [(95, 'prehradenie', 'Dunaja'), (170, 'napustenie', 'ramennej sústavy'), (296, 'dnová', 'prehrádzka')]
for x, l1, l2 in ev_text:
    fig.text(x / W, 1 - 104 / H, l1, ha='center', va='center', fontsize=8.5, style='italic')
    fig.text(x / W, 1 - 115 / H, l2, ha='center', va='center', fontsize=8.5, style='italic')

# legend
fig.add_artist(Line2D([95 / W], [1 - 1519 / H], marker='^', ms=6.5, color='k', mew=0, transform=fig.transFigure))
fig.add_artist(Line2D([95 / W], [1 - 1553 / H], marker='o', ms=8.5, mfc='white', mec='k', mew=1.5,
                      transform=fig.transFigure))
fig.text(115 / W, 1 - 1519 / H, 'Slovenské údaje (podľa údajov VÚVH)', va='center', fontsize=10.5)
fig.text(115 / W, 1 - 1553 / H, 'Odsúhlasené údaje Komisie hraničných vôd', va='center', fontsize=10.5)
fig.text(357 / W, 1 - 1537 / H, 'červené značky: namerané údaje boli pod medzou stanovenia', va='center',
         fontsize=11.5)

# logo box
fig.add_artist(Rectangle((777 / W, 1 - 1570 / H), 169 / W, 52 / H, transform=fig.transFigure,
                         fill=False, ec='k', lw=1.2))
lax = fig.add_axes([782 / W, 1 - 1566 / H, 34 / W, 44 / H])
lax.set_xlim(0, 34)
lax.set_ylim(0, 44)
lax.axis('off')
for r in [4, 8, 12, 16]:
    lax.add_patch(Arc((17, 22), 2 * r, 2.5 * r, theta1=-90, theta2=90, lw=0.9, color='k'))
    lax.plot([17 - r * 0.9, 17 - r * 0.9], [4, 40], color='k', lw=0.9)
fig.text(875 / W, 1 - 1527 / H, 'Konzultačná skupina', ha='center', va='center', fontsize=5)
fig.text(880 / W, 1 - 1545 / H, 'PODZEMNÁ VODA', ha='center', va='center', fontsize=9.5, fontweight='bold')
fig.text(875 / W, 1 - 1561 / H, 'spol. s r.o.', ha='center', va='center', fontsize=5)
fig.text(946 / W, 1 - 1587 / H, '© 2004', ha='right', va='center', fontsize=7.5)

fig.savefig('out.png', dpi=100)
